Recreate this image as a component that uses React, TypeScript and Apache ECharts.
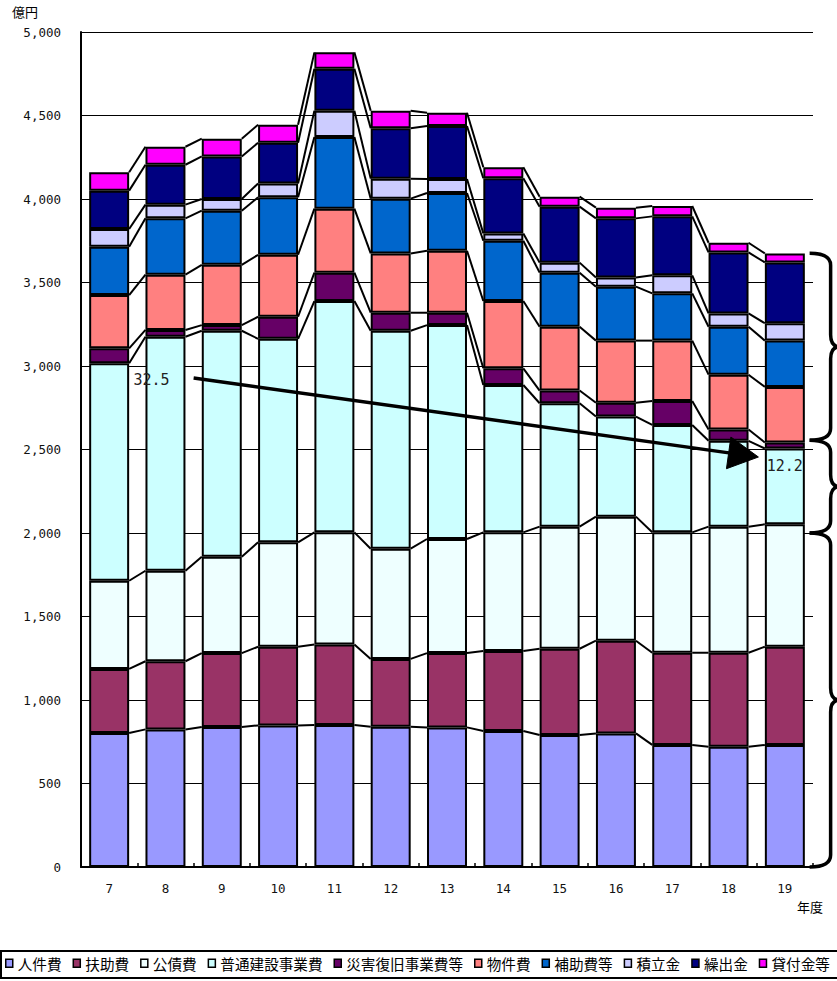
import React, { useEffect, useRef } from "react";
import * as echarts from "echarts";

// ---- data (億円) ----
const years = ["7", "8", "9", "10", "11", "12", "13", "14", "15", "16", "17", "18", "19"];
const seriesNames = [
  "人件費",
  "扶助費",
  "公債費",
  "普通建設事業費",
  "災害復旧事業費等",
  "物件費",
  "補助費等",
  "積立金",
  "繰出金",
  "貸付金等",
];
const personnel = [802, 824, 838, 848, 850, 840, 836, 814, 790, 800, 731, 720, 731];
const assistance = [384, 408, 443, 471, 483, 406, 445, 479, 517, 555, 552, 563, 588];
const debtService = [528, 542, 577, 625, 671, 660, 683, 711, 731, 743, 721, 755, 733];
const construction = [1302, 1401, 1353, 1219, 1385, 1305, 1281, 882, 739, 599, 643, 514, 454];
const disaster = [90, 41, 34, 132, 170, 108, 74, 100, 76, 83, 143, 68, 36];
const goods = [319, 331, 361, 371, 383, 355, 371, 403, 382, 372, 362, 328, 333];
const subsidies = [289, 337, 324, 344, 429, 328, 346, 361, 324, 323, 283, 287, 277];
const reserves = [106, 82, 70, 83, 158, 120, 84, 44, 60, 55, 108, 80, 104];
const transfers = [230, 239, 255, 244, 251, 301, 317, 330, 335, 354, 353, 365, 364];
const loans = [110, 108, 106, 108, 98, 106, 79, 66, 60, 64, 62, 58, 54];
const seriesValues = [
  personnel,
  assistance,
  debtService,
  construction,
  disaster,
  goods,
  subsidies,
  reserves,
  transfers,
  loans,
];
const yTicks = { min: 0, max: 5000, interval: 500 };
// brace groups [bottom, top]
const braceRanges = [
  [2555, 3675],
  [2000, 2555],
  [0, 2000],
];
// arrow annotation: [category index, value]
const arrowFrom = [1, 2928];
const arrowTo = [12, 2455];
const annotLabels = ["32.5", "12.2"];
const labelEndValue = 2400;

// ---- styles ----
const colors = [
  "#9999FF",
  "#993366",
  "#EEFFFF",
  "#CCFFFF",
  "#660066",
  "#FF8080",
  "#0066CC",
  "#CCCCFF",
  "#000080",
  "#FF00FF",
];
const BAR_RATIO = 0.71;
const MONO = "'DejaVu Sans Mono', monospace";
const CJK = "'Noto Sans CJK JP', 'Noto Sans', sans-serif";

const cumulative: number[][] = [];
seriesValues.forEach((arr, k) => {
  cumulative[k] = arr.map((v, i) => v + (k > 0 ? cumulative[k - 1][i] : 0));
});

export default function App() {
  const ref = useRef<HTMLDivElement>(null);

  useEffect(() => {
    if (!ref.current) return;
    const chart = echarts.init(ref.current, undefined, { renderer: "svg" });

    const barSeries = seriesNames.map((name, k) => ({
      name,
      type: "bar",
      stack: "total",
      barWidth: `${BAR_RATIO * 100}%`,
      data: seriesValues[k],
      itemStyle: { color: colors[k], borderColor: "#000", borderWidth: 2 },
      emphasis: { disabled: true },
      z: 2,
    }));

    const seriesLines = {
      type: "custom",
      name: "seriesLines",
      silent: true,
      z: 3,
      encode: { x: 0, y: 1 },
      data: years.slice(0, -1).map((_, i) => [i, 0]),
      renderItem: (params: any, api: any) => {
        const i = params.dataIndex;
        const band = api.size([1, 0])[0];
        const half = (band * BAR_RATIO) / 2;
        const children = cumulative.map((levels) => {
          const p1 = api.coord([i, levels[i]]);
          const p2 = api.coord([i + 1, levels[i + 1]]);
          return {
            type: "line",
            shape: { x1: p1[0] + half, y1: p1[1], x2: p2[0] - half, y2: p2[1] },
            style: { stroke: "#000", lineWidth: 2 },
          };
        });
        return { type: "group", children };
      },
    };

    const braces = {
      type: "custom",
      name: "braces",
      silent: true,
      clip: false,
      z: 3,
      encode: { x: 0, y: 1 },
      data: braceRanges.map((r) => [years.length - 1, r[0], r[1]]),
      renderItem: (params: any, api: any) => {
        const r = braceRanges[params.dataIndex];
        const band = api.size([1, 0])[0];
        const last = years.length - 1;
        const pb = api.coord([last, r[0]]);
        const pt = api.coord([last, r[1]]);
        const x0 = pb[0] + band * 0.44;
        const x1 = x0 + 21;
        const x2 = x1 + 9;
        const yT = pt[1];
        const yB = pb[1];
        const ym = (yT + yB) / 2;
        const rr = 12;
        const d = `M${x0} ${yT} Q${x1} ${yT} ${x1} ${yT + rr} L${x1} ${ym - rr} Q${x1} ${ym} ${x2} ${ym} Q${x1} ${ym} ${x1} ${ym + rr} L${x1} ${yB - rr} Q${x1} ${yB} ${x0} ${yB}`;
        return {
          type: "path",
          shape: { pathData: d },
          style: { stroke: "#000", fill: "none", lineWidth: 3.5 },
        };
      },
    };

    const annotation = {
      type: "custom",
      name: "annotation",
      silent: true,
      clip: false,
      z: 10,
      encode: { x: 0, y: 1 },
      data: [[0, 0]],
      renderItem: (_params: any, api: any) => {
        const band = api.size([1, 0])[0];
        const a = api.coord(arrowFrom);
        const b = api.coord(arrowTo);
        const sx = a[0] + band * 0.5;
        const sy = a[1];
        const ex = b[0] - band * 0.47;
        const ey = b[1];
        const dx = ex - sx;
        const dy = ey - sy;
        const len = Math.sqrt(dx * dx + dy * dy);
        const ux = dx / len;
        const uy = dy / len;
        const headLen = 30;
        const headHalf = 16;
        const bx = ex - ux * headLen;
        const by = ey - uy * headLen;
        const lbl = api.coord([arrowTo[0], labelEndValue]);
        return {
          type: "group",
          children: [
            {
              type: "line",
              shape: { x1: sx, y1: sy, x2: bx + ux * 2, y2: by + uy * 2 },
              style: { stroke: "#000", lineWidth: 3.5 },
            },
            {
              type: "polygon",
              shape: {
                points: [
                  [ex, ey],
                  [bx - uy * headHalf, by + ux * headHalf],
                  [bx + uy * headHalf, by - ux * headHalf],
                ],
              },
              style: { fill: "#000", stroke: "#000", lineWidth: 1 },
            },
            {
              type: "text",
              style: {
                x: sx - 24,
                y: sy + 2,
                text: annotLabels[0],
                align: "right",
                verticalAlign: "middle",
                font: `15px ${MONO}`,
                fill: "#222",
              },
            },
            {
              type: "text",
              style: {
                x: lbl[0],
                y: lbl[1],
                text: annotLabels[1],
                align: "center",
                verticalAlign: "middle",
                font: `15px ${MONO}`,
                fill: "#222",
              },
            },
          ],
        };
      },
    };

    chart.setOption({
      animation: false,
      backgroundColor: "#fff",
      grid: { left: 81, right: 24, top: 32, bottom: 114, containLabel: false },
      xAxis: {
        type: "category",
        data: years,
        boundaryGap: true,
        axisLine: { lineStyle: { color: "#000", width: 2 } },
        axisTick: { show: true, inside: true, length: 4, lineStyle: { color: "#000", width: 1.5 } },
        axisLabel: { color: "#111", fontFamily: MONO, fontSize: 12.5, margin: 15 },
        splitLine: { show: false },
      },
      yAxis: {
        type: "value",
        min: yTicks.min,
        max: yTicks.max,
        interval: yTicks.interval,
        axisLine: { show: true, lineStyle: { color: "#000", width: 2 } },
        axisTick: { show: false },
        axisLabel: {
          color: "#111",
          fontFamily: MONO,
          fontSize: 12.5,
          margin: 20,
          formatter: (v: number) => v.toLocaleString("en-US"),
        },
        splitLine: { show: true, lineStyle: { color: "#000", width: 1 } },
      },
      legend: {
        data: seriesNames,
        left: 5,
        top: 956,
        width: 832,
        orient: "horizontal",
        itemWidth: 7,
        itemHeight: 8,
        itemGap: 11,
        padding: 0,
        icon: "rect",
        itemStyle: { borderColor: "#000", borderWidth: 1.5 },
        textStyle: { fontFamily: CJK, fontSize: 14.6, color: "#000", padding: [0, 0, 0, 0] },
        selectedMode: false,
      },
      graphic: [
        {
          type: "text",
          left: 12,
          top: 5,
          style: { text: "億円", font: `13px ${CJK}`, fill: "#000" },
        },
        {
          type: "text",
          left: 797,
          top: 900,
          style: { text: "年度", font: `13px ${CJK}`, fill: "#000" },
        },
        {
          type: "rect",
          shape: { x: 1, y: 951, width: 845, height: 27 },
          style: { fill: "none", stroke: "#000", lineWidth: 2 },
          silent: true,
        },
      ],
      series: [...barSeries, seriesLines, braces, annotation],
    });

    return () => chart.dispose();
  }, []);

  return (
    <div
      ref={ref}
      style={{ position: "fixed", left: 0, top: 0, width: 837, height: 981, background: "#fff" }}
    />
  );
}
